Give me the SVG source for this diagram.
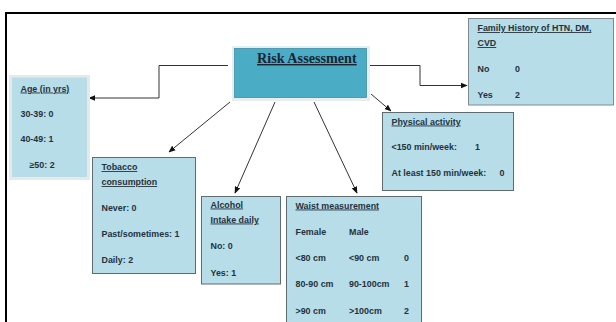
<svg xmlns="http://www.w3.org/2000/svg" width="616" height="322" viewBox="0 0 616 322">
<defs>
<marker id="ah" viewBox="0 0 10 10" refX="9" refY="5" markerWidth="7" markerHeight="7" orient="auto" markerUnits="userSpaceOnUse">
<path d="M0,1 L10,5 L0,9 z" fill="#111"/>
</marker>
<style>
.box{fill:#b7dde8;stroke:#5f6b70;stroke-width:1}
.sh{fill:#e6e9ea}
.t{font-family:"Liberation Sans",Arial,sans-serif;font-weight:bold;font-size:8.9px;fill:#24323d}
.u{text-decoration:underline}
.c{fill:none;stroke:#333;stroke-width:1;marker-end:url(#ah)}
</style>
</defs>
<rect width="616" height="322" fill="#fff"/>
<path d="M6,322 V13 H616" fill="none" stroke="#000" stroke-width="2"/>
<g id="connectors">
<polyline class="c" points="228,65.5 159,65.5 159,98 89,98"/>
<polyline class="c" points="369,65.5 420,65.5 420,85.5 467,85.5"/>
<line class="c" x1="230" y1="102" x2="169" y2="152"/>
<line class="c" x1="275" y1="102" x2="235" y2="193"/>
<line class="c" x1="314" y1="102" x2="357" y2="193"/>
<line class="c" x1="371" y1="94" x2="391" y2="111"/>
</g>
<g id="risk">
<rect x="232" y="46" width="138" height="55" fill="#e8eef0"/>
<rect x="234.5" y="48.5" width="132" height="49" fill="#4bacc6" stroke="#3f8fa5" stroke-width="0.8"/>
<text x="257" y="63" font-family="'Liberation Serif','Times New Roman',serif" font-weight="bold" font-size="14.2" fill="#1a2533" text-decoration="underline">Risk Assessment</text>
</g>
<g id="age">
<rect class="sh" x="9" y="75" width="81" height="105"/>
<rect x="12" y="77.5" width="75" height="99.5" fill="#b7dde8"/>
<text class="t u" x="20.5" y="91.5">Age (in yrs)</text>
<text class="t" x="20.5" y="116.5">30-39: 0</text>
<text class="t" x="20.5" y="142">40-49: 1</text>
<text class="t" x="29.5" y="168">≥50: 2</text>
</g>
<g id="family">
<rect x="468.5" y="18.5" width="145" height="86.5" fill="#b7dde8" stroke="#808a8e" stroke-width="1"/>
<text class="t u" x="477.5" y="31">Family History of HTN, DM,</text>
<text class="t u" x="477.5" y="46">CVD</text>
<text class="t" x="477.5" y="71.5">No</text>
<text class="t" x="515" y="71.5">0</text>
<text class="t" x="477.5" y="98">Yes</text>
<text class="t" x="515" y="98">2</text>
</g>
<g id="physical">
<rect class="box" x="382.5" y="112.5" width="131" height="78"/>
<text class="t u" x="391.5" y="124.5">Physical activity</text>
<text class="t" x="391.5" y="150">&lt;150 min/week:</text>
<text class="t" x="475" y="150">1</text>
<text class="t" x="391.5" y="176">At least 150 min/week:</text>
<text class="t" x="499.5" y="176">0</text>
</g>
<g id="tobacco">
<rect class="box" x="92.5" y="157.5" width="103" height="116"/>
<text class="t u" x="101.5" y="170">Tobacco</text>
<text class="t u" x="101.5" y="185">consumption</text>
<text class="t" x="101.5" y="211">Never: 0</text>
<text class="t" x="101.5" y="237">Past/sometimes: 1</text>
<text class="t" x="101.5" y="263">Daily: 2</text>
</g>
<g id="alcohol">
<rect class="box" x="201.5" y="196.5" width="79" height="87.5"/>
<text class="t u" x="210.5" y="207.5">Alcohol</text>
<text class="t u" x="210.5" y="222.5">Intake daily</text>
<text class="t" x="210.5" y="249">No: 0</text>
<text class="t" x="210.5" y="276">Yes: 1</text>
</g>
<g id="waist">
<rect class="box" x="286.5" y="196.5" width="135" height="130"/>
<text class="t u" x="295.5" y="208.5">Waist measurement</text>
<text class="t" x="295.5" y="234.5">Female</text>
<text class="t" x="349" y="234.5">Male</text>
<text class="t" x="295.5" y="261">&lt;80 cm</text>
<text class="t" x="349" y="261">&lt;90 cm</text>
<text class="t" x="404" y="261">0</text>
<text class="t" x="295.5" y="287">80-90 cm</text>
<text class="t" x="349" y="287">90-100cm</text>
<text class="t" x="404" y="287">1</text>
<text class="t" x="295.5" y="313.5">&gt;90 cm</text>
<text class="t" x="349" y="313.5">&gt;100cm</text>
<text class="t" x="404" y="313.5">2</text>
</g>
</svg>
